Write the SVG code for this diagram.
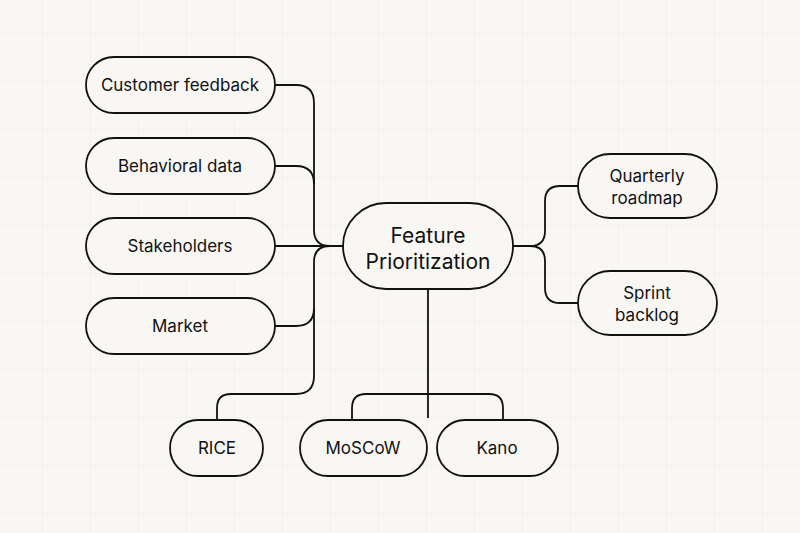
<svg xmlns="http://www.w3.org/2000/svg" width="800" height="533" viewBox="0 0 800 533">
<defs>
<pattern id="g" width="48" height="48" patternUnits="userSpaceOnUse" x="42" y="33">
<path d="M0 0H48M0 0V48" fill="none" stroke="#ebebe6" stroke-width="1"/>
</pattern>
<style>
.n{fill:#f8f7f4;stroke:#111;stroke-width:1.8}
.c{fill:none;stroke:#111;stroke-width:1.8}
text{font-family:Inter,"Noto Sans",sans-serif;font-size:17px;fill:#111;text-anchor:middle;dominant-baseline:central}
.big{font-size:21px}
</style>
</defs>
<rect width="800" height="533" fill="#f8f7f4"/>
<rect width="800" height="533" fill="url(#g)"/>
<g id="connectors">
<path class="c" d="M275 85H296Q314 85 314 103V230Q314 246 330 246H343"/>
<path class="c" d="M275 166H296Q314 166 314 184"/>
<path class="c" d="M275 246H343"/>
<path class="c" d="M330 246Q314 246 314 262V376Q314 394 296 394H231Q217 394 217 408V420"/>
<path class="c" d="M275 326H296Q314 326 314 308"/>
<path class="c" d="M428 289V418"/>
<path class="c" d="M352 420V408Q352 394 366 394H489Q503 394 503 408V420"/>
<path class="c" d="M513 246H530Q545 246 545 231V201Q545 186 560 186H578"/>
<path class="c" d="M530 246Q545 246 545 261V288Q545 303 560 303H578"/>
</g>
<g id="center"><rect class="n" x="343" y="203" width="170" height="86" rx="43"/><text class="big" x="428" y="235">Feature</text><text class="big" x="428" y="261">Prioritization</text></g>
<g id="customer"><rect class="n" x="86" y="57" width="189" height="56" rx="28"/><text x="180" y="85">Customer feedback</text></g>
<g id="behavioral"><rect class="n" x="86" y="138" width="189" height="56" rx="28"/><text x="180" y="166">Behavioral data</text></g>
<g id="stakeholders"><rect class="n" x="86" y="218" width="189" height="56" rx="28"/><text x="180" y="246">Stakeholders</text></g>
<g id="market"><rect class="n" x="86" y="298" width="189" height="56" rx="28"/><text x="180" y="326">Market</text></g>
<g id="quarterly"><rect class="n" x="578" y="154" width="139" height="64" rx="32"/><text x="647" y="176">Quarterly</text><text x="647" y="198">roadmap</text></g>
<g id="sprint"><rect class="n" x="578" y="271" width="139" height="64" rx="32"/><text x="647" y="293">Sprint</text><text x="647" y="315">backlog</text></g>
<g id="rice"><rect class="n" x="170" y="420" width="93" height="56" rx="28"/><text x="217" y="448">RICE</text></g>
<g id="moscow"><rect class="n" x="300" y="420" width="127" height="56" rx="28"/><text x="363" y="448">MoSCoW</text></g>
<g id="kano"><rect class="n" x="437" y="420" width="121" height="56" rx="28"/><text x="497" y="448">Kano</text></g>
</svg>
